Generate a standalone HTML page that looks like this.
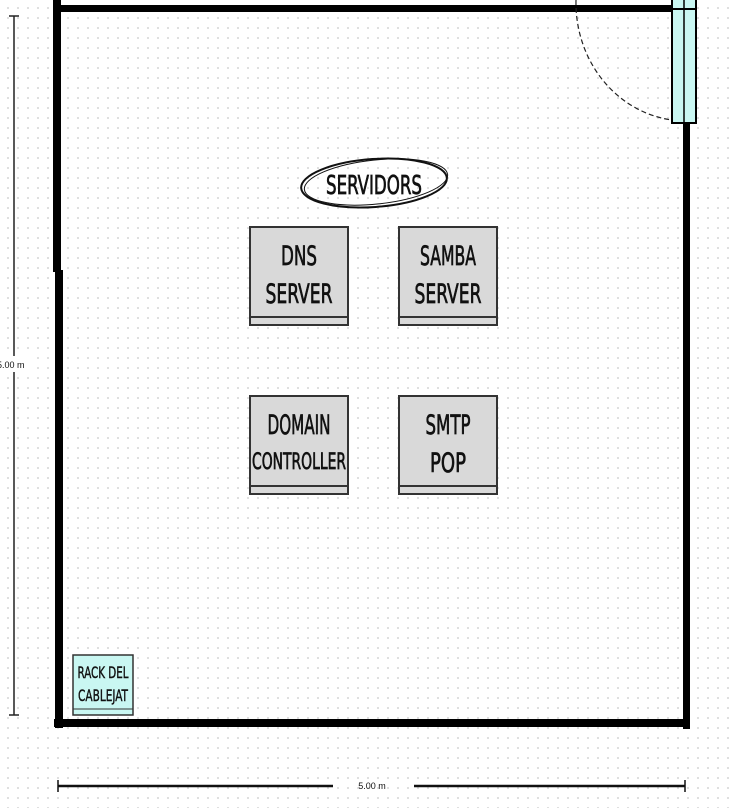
<!DOCTYPE html>
<html><head><meta charset="utf-8"><style>
html,body{margin:0;padding:0;}
body{width:734px;height:808px;overflow:hidden;background-color:#fff;
background-image:radial-gradient(circle,#d6d6d6 0.8px,transparent 1.1px);background-size:10px 10px;background-position:3px 3px;}
svg{position:absolute;left:0;top:0;}
text{font-family:"Liberation Sans Narrow","DejaVu Sans Condensed","Liberation Sans",sans-serif;fill:#111;}
.b{stroke:#111;stroke-width:0.7;}
</style></head><body>
<svg width="734" height="808" viewBox="0 0 734 808">
<rect x="53" y="0" width="8" height="272" fill="#000"/>
<rect x="55" y="270" width="8" height="458" fill="#000"/>
<rect x="54" y="5" width="618" height="7" fill="#000"/>
<rect x="683" y="122" width="7" height="607" fill="#000"/>
<rect x="54" y="719" width="636" height="8" fill="#000"/>
<rect x="672" y="-2" width="24" height="125" fill="#c9f7f2" stroke="#000" stroke-width="2"/>
<line x1="684" y1="0" x2="684" y2="123" stroke="#000" stroke-width="1.5"/>
<line x1="672" y1="9" x2="696" y2="9" stroke="#000" stroke-width="2"/>
<path d="M576,0 A110,118 0 0 0 672,120" fill="none" stroke="#222" stroke-width="1.2" stroke-dasharray="5,3"/>
<line x1="14" y1="16" x2="14" y2="715" stroke="#222" stroke-width="1.5"/>
<line x1="9" y1="16" x2="19" y2="16" stroke="#222" stroke-width="1.5"/>
<line x1="9" y1="715" x2="19" y2="715" stroke="#222" stroke-width="1.5"/>
<rect x="0" y="356" width="32" height="16" fill="#fff"/>
<text x="-3" y="368" font-size="9" style="font-family:'Liberation Sans',sans-serif">5.00 m</text>
<line x1="58" y1="786" x2="333" y2="786" stroke="#111" stroke-width="2.5"/>
<line x1="414" y1="786" x2="685" y2="786" stroke="#111" stroke-width="2.5"/>
<line x1="58" y1="780" x2="58" y2="792" stroke="#111" stroke-width="1.5"/>
<line x1="685" y1="780" x2="685" y2="792" stroke="#111" stroke-width="1.5"/>
<text x="372" y="789" font-size="9" text-anchor="middle" style="font-family:'Liberation Sans',sans-serif">5.00 m</text>
<ellipse cx="374" cy="183" rx="73" ry="24" fill="none" stroke="#111" stroke-width="2" transform="rotate(-4 374 183)"/>
<ellipse cx="376" cy="182" rx="72" ry="22" fill="none" stroke="#111" stroke-width="1" transform="rotate(-6 376 182)"/>
<text class="b" x="374" y="194" font-size="26" text-anchor="middle" textLength="96" lengthAdjust="spacingAndGlyphs">SERVIDORS</text>
<g stroke="#333" stroke-width="2" fill="#d9d9d9">
<rect x="250" y="227" width="98" height="98"/><line x1="250" y1="317" x2="348" y2="317"/>
<rect x="399" y="227" width="98" height="98"/><line x1="399" y1="317" x2="497" y2="317"/>
<rect x="250" y="396" width="98" height="98"/><line x1="250" y1="486" x2="348" y2="486"/>
<rect x="399" y="396" width="98" height="98"/><line x1="399" y1="486" x2="497" y2="486"/>
</g>
<g font-size="27" text-anchor="middle" class="b">
<text x="299" y="265" textLength="36" lengthAdjust="spacingAndGlyphs">DNS</text>
<text x="299" y="303" textLength="67" lengthAdjust="spacingAndGlyphs">SERVER</text>
<text x="448" y="265" textLength="56" lengthAdjust="spacingAndGlyphs">SAMBA</text>
<text x="448" y="303" textLength="67" lengthAdjust="spacingAndGlyphs">SERVER</text>
<text x="299" y="434" textLength="63" lengthAdjust="spacingAndGlyphs">DOMAIN</text>
<text x="299" y="469" font-size="22" textLength="94" lengthAdjust="spacingAndGlyphs">CONTROLLER</text>
<text x="448" y="434" textLength="45" lengthAdjust="spacingAndGlyphs">SMTP</text>
<text x="448" y="472" textLength="36" lengthAdjust="spacingAndGlyphs">POP</text>
</g>
<rect x="73" y="655" width="60" height="60" fill="#c9f7f2" stroke="#333" stroke-width="1.5"/>
<line x1="73" y1="709" x2="133" y2="709" stroke="#333" stroke-width="1"/>
<text class="b" style="stroke-width:0.4" x="103" y="678" font-size="16" text-anchor="middle" textLength="51" lengthAdjust="spacingAndGlyphs">RACK DEL</text>
<text class="b" style="stroke-width:0.4" x="103" y="701" font-size="16" text-anchor="middle" textLength="50" lengthAdjust="spacingAndGlyphs">CABLEJAT</text>
</svg>
</body></html>
